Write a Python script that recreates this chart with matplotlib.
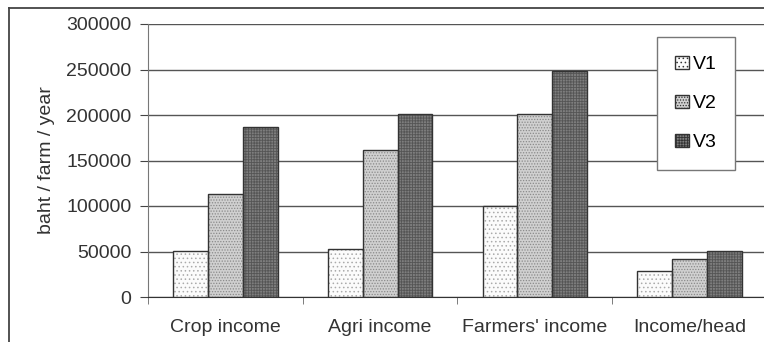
import matplotlib
matplotlib.use("Agg")
import matplotlib.pyplot as plt
import numpy as np
from matplotlib.patches import Patch
from matplotlib.lines import Line2D

plt.rcParams['font.family'] = ['Liberation Sans', 'DejaVu Sans']
plt.rcParams['hatch.linewidth'] = 0.6

# data
categories = ["Crop income", "Agri income", "Farmers' income", "Income/head"]
V1 = [51000, 53000, 100000, 29000]
V2 = [113000, 161000, 201000, 42000]
V3 = [187000, 201000, 248000, 51000]
series = [V1, V2, V3]
labels = ["V1", "V2", "V3"]
yticks = [0, 50000, 100000, 150000, 200000, 250000, 300000]

faces = ['#fbfbfb', '#d0d0d0', '#7e7e7e']
hatches = ['....', '......', '++++++']
hatchcols = ['#aaaaaa', '#8a8a8a', '#555555']

fig = plt.figure(figsize=(7.64, 3.42), dpi=100)
ax = fig.add_axes([148/764, 45/342, 619/764, 273/342])

x = np.arange(len(categories))
w = 0.225
for i, s in enumerate(series):
    pos = x + (i - 1) * w
    ax.bar(pos, s, w, color=faces[i], hatch=hatches[i], edgecolor=hatchcols[i],
           linewidth=0, zorder=3)
    ax.bar(pos, s, w, fill=False, edgecolor='#333333', linewidth=1.0, zorder=4)

ax.set_xlim(-0.5, len(categories) - 0.5)
ax.set_ylim(0, 300000)
ax.set_yticks(yticks)
ax.set_yticklabels([str(t) for t in yticks])
ax.yaxis.grid(True, color='#555555', linewidth=1.0, zorder=0)
ax.set_xticks(x)
ax.set_xticklabels(categories)
ax.set_xticks(np.arange(len(categories) + 1) - 0.5, minor=True)
ax.tick_params(axis='x', which='major', length=0, pad=16, labelsize=14, colors='#333333')
ax.tick_params(axis='x', which='minor', length=5, color='#666666')
ax.tick_params(axis='y', length=6, color='#444444', labelsize=14, labelcolor='#333333', pad=6)
for side in ['top', 'right']:
    ax.spines[side].set_visible(False)
ax.spines['left'].set_color('#777777')
ax.spines['bottom'].set_color('#333333')
ax.set_ylabel("baht / farm / year", fontsize=14, color='#333333', labelpad=8)

handles = [Patch(facecolor=faces[i], hatch=hatches[i], edgecolor='#333333', linewidth=1)
           for i in range(3)]
leg = ax.legend(handles, labels, loc='upper left', bbox_to_anchor=(0.822, 0.952),
                fontsize=14, frameon=True, fancybox=False, edgecolor='#777777',
                framealpha=1, handlelength=0.7, handleheight=0.7, handletextpad=0.2,
                labelspacing=1.1, borderpad=0.95, borderaxespad=0)
leg.get_frame().set_linewidth(1.0)
leg.set_zorder(10)

# outer frame of the picture
fig.add_artist(Line2D([8.5/764, 1.0], [334/342, 334/342], color='#444444', linewidth=1.3))
fig.add_artist(Line2D([8.5/764, 8.5/764], [0, 334/342], color='#444444', linewidth=1.3))

fig.savefig("out.png", dpi=100)
